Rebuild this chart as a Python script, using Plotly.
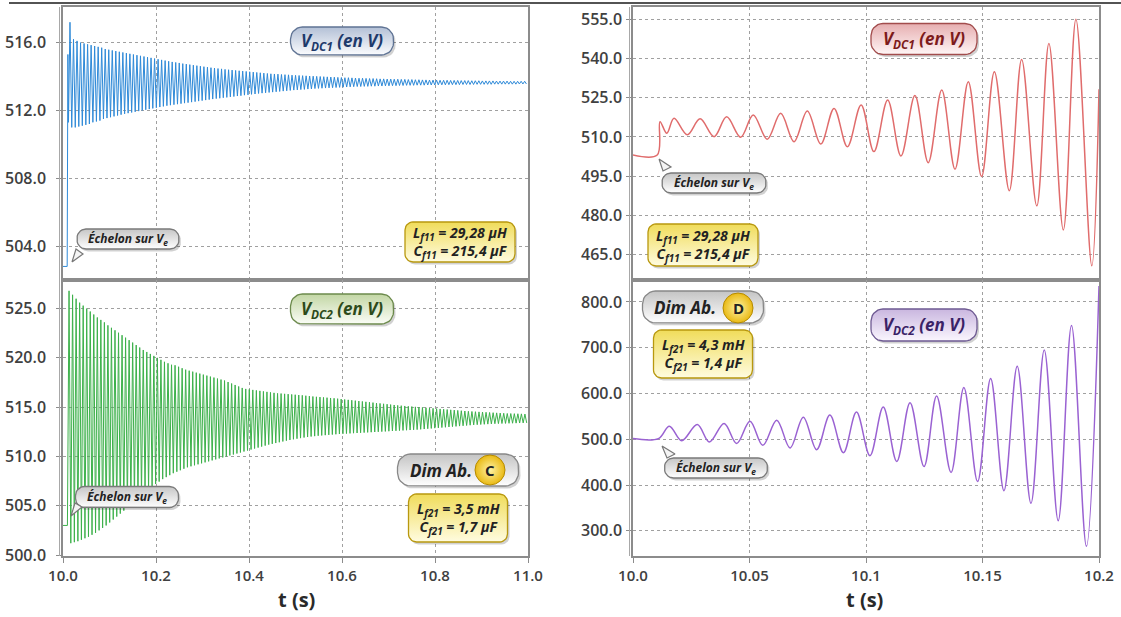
import numpy as np
import plotly.graph_objects as go

# ================= DATA =================
# Left column: dense oscillations, stored as successive maxima / minima
blue_pre_t = [10.0, 10.009, 10.0105, 10.0118]
blue_pre_v = [502.8, 502.8, 515.3, 511.3]
blue_t0 = 10.015
blue_half_period = 0.00379
blue_max = [517.2, 516.2, 516.1, 516.0, 515.95, 515.9, 515.85, 515.8, 515.75, 515.7,
            515.62, 515.58, 515.54, 515.5, 515.46, 515.42, 515.38, 515.34, 515.3, 515.26,
            515.22, 515.18, 515.14, 515.1, 515.06, 515.02, 514.98, 514.94, 514.9, 514.86,
            514.83, 514.8, 514.76, 514.73, 514.7, 514.67, 514.64, 514.61, 514.58, 514.55,
            514.52, 514.5, 514.47, 514.45, 514.42, 514.4, 514.38, 514.36, 514.34, 514.32,
            514.3, 514.28, 514.26, 514.24, 514.22, 514.2, 514.18, 514.16, 514.15, 514.14,
            514.12, 514.11, 514.1, 514.08, 514.07, 514.06, 514.05, 514.04, 514.03, 514.02,
            514.01, 514.0, 513.99, 513.98, 513.97, 513.96, 513.95, 513.94, 513.93, 513.93,
            513.92, 513.91, 513.9, 513.9, 513.89, 513.88, 513.88, 513.87, 513.86, 513.86,
            513.85, 513.85, 513.84, 513.84, 513.83, 513.83, 513.82, 513.82, 513.81, 513.81,
            513.8, 513.8, 513.79, 513.79, 513.79, 513.78, 513.78, 513.78, 513.77, 513.77,
            513.77, 513.76, 513.76, 513.76, 513.75, 513.75, 513.75, 513.74, 513.74, 513.74,
            513.74, 513.73, 513.73, 513.73, 513.73, 513.72, 513.72, 513.72, 513.72, 513.72]
blue_min = [511.0, 511.0, 511.05, 511.1, 511.15, 511.2, 511.3, 511.35, 511.4, 511.5,
            511.55, 511.6, 511.65, 511.7, 511.75, 511.8, 511.84, 511.88, 511.92, 511.96,
            512.0, 512.04, 512.08, 512.12, 512.16, 512.2, 512.24, 512.28, 512.31, 512.34,
            512.37, 512.4, 512.43, 512.46, 512.49, 512.52, 512.55, 512.58, 512.61, 512.64,
            512.67, 512.7, 512.72, 512.75, 512.77, 512.8, 512.82, 512.85, 512.87, 512.9,
            512.92, 512.95, 512.97, 513.0, 513.02, 513.04, 513.06, 513.08, 513.1, 513.12,
            513.14, 513.16, 513.18, 513.2, 513.21, 513.23, 513.24, 513.26, 513.27, 513.29,
            513.3, 513.31, 513.32, 513.33, 513.34, 513.35, 513.36, 513.37, 513.38, 513.39,
            513.4, 513.41, 513.41, 513.42, 513.42, 513.43, 513.43, 513.44, 513.44, 513.45,
            513.45, 513.46, 513.46, 513.47, 513.47, 513.48, 513.48, 513.48, 513.49, 513.49,
            513.49, 513.5, 513.5, 513.5, 513.51, 513.51, 513.51, 513.52, 513.52, 513.52,
            513.52, 513.53, 513.53, 513.53, 513.53, 513.54, 513.54, 513.54, 513.54, 513.54,
            513.55, 513.55, 513.55, 513.55, 513.55, 513.55, 513.55, 513.56, 513.56, 513.56]

green_pre_t = [10.0, 10.0095]
green_pre_v = [503.0, 503.0]
green_t0 = 10.013
green_half_period = 0.0038
green_max = [526.8, 526.4, 526.0, 525.6, 525.3, 525.0, 524.7, 524.4, 524.1, 523.85,
             523.6, 523.3, 523.05, 522.8, 522.55, 522.3, 522.05, 521.8, 521.55, 521.3,
             521.05, 520.8, 520.6, 520.4, 520.2, 520.0, 519.8, 519.6, 519.45, 519.3,
             519.25, 519.1, 518.95, 518.8, 518.7, 518.6, 518.5, 518.4, 518.3, 518.2,
             518.1, 518.0, 517.9, 517.8, 517.7, 517.55, 517.4, 517.25, 517.1, 516.95,
             516.85, 516.8, 516.75, 516.7, 516.65, 516.6, 516.55, 516.5, 516.45, 516.4,
             516.38, 516.35, 516.32, 516.29, 516.26, 516.23, 516.2, 516.16, 516.12, 516.08,
             516.05, 516.02, 515.99, 515.96, 515.93, 515.9, 515.86, 515.82, 515.78, 515.74,
             515.7, 515.66, 515.62, 515.58, 515.54, 515.5, 515.46, 515.42, 515.38, 515.34,
             515.3, 515.26, 515.22, 515.18, 515.15, 515.12, 515.09, 515.06, 515.03, 515.0,
             514.97, 514.94, 514.91, 514.88, 514.85, 514.82, 514.79, 514.76, 514.73, 514.7,
             514.67, 514.64, 514.61, 514.58, 514.56, 514.54, 514.52, 514.5, 514.48, 514.46,
             514.44, 514.42, 514.4, 514.38, 514.36, 514.35, 514.34, 514.33, 514.32, 514.3]
green_min = [501.2, 501.3, 501.4, 501.55, 501.7, 501.85, 502.05, 502.25, 502.5, 502.75,
             503.0, 503.3, 503.6, 503.9, 504.2, 504.5, 504.8, 505.1, 505.4, 505.7,
             506.0, 506.3, 506.6, 506.9, 507.2, 507.45, 507.7, 507.9, 508.1, 508.3,
             508.45, 508.6, 508.75, 508.9, 509.0, 509.1, 509.2, 509.3, 509.4, 509.5,
             509.6, 509.7, 509.8, 509.9, 510.0, 510.1, 510.2, 510.3, 510.4, 510.5,
             510.6, 510.7, 510.8, 510.9, 511.0, 511.1, 511.2, 511.28, 511.36, 511.44,
             511.52, 511.6, 511.67, 511.74, 511.8, 511.86, 511.92, 511.97, 512.02, 512.06,
             512.1, 512.13, 512.16, 512.19, 512.22, 512.25, 512.28, 512.3, 512.32, 512.34,
             512.36, 512.38, 512.4, 512.42, 512.44, 512.46, 512.48, 512.5, 512.52, 512.54,
             512.56, 512.58, 512.6, 512.62, 512.64, 512.66, 512.68, 512.7, 512.72, 512.75,
             512.78, 512.81, 512.84, 512.87, 512.9, 512.93, 512.96, 512.99, 513.02, 513.05,
             513.08, 513.11, 513.14, 513.17, 513.2, 513.22, 513.24, 513.26, 513.28, 513.3,
             513.32, 513.33, 513.34, 513.35, 513.36, 513.37, 513.38, 513.39, 513.4, 513.4]

# Right column: extrema of the growing oscillations
red_t = [10.0, 10.0104, 10.0116, 10.0145, 10.0176, 10.0233, 10.0288, 10.0348, 10.0402,
         10.0462, 10.0516, 10.0576, 10.0634, 10.0691, 10.0748, 10.0806, 10.0863, 10.092,
         10.0979, 10.1034, 10.1093, 10.115, 10.121, 10.1267, 10.1325, 10.1382, 10.1439,
         10.1496, 10.1551, 10.1615, 10.1668, 10.1733, 10.1785, 10.1847, 10.1901, 10.1969, 10.2]
red_v = [503.1, 503.1, 515.8, 511.4, 517.1, 510.8, 516.9, 510.1, 517.7,
         509.9, 518.4, 509.1, 519.0, 508.2, 519.9, 507.3, 520.9, 506.3,
         522.2, 504.4, 524.1, 502.75, 525.8, 500.2, 527.9, 497.7, 531.1,
         494.9, 534.9, 489.5, 539.6, 483.7, 545.7, 474.5, 554.9, 460.8, 528.2]

purple_t = [10.0, 10.0109, 10.0156, 10.0209, 10.0276, 10.0328, 10.0391, 10.0445, 10.0502,
            10.0557, 10.0617, 10.0674, 10.0731, 10.0788, 10.0845, 10.0903, 10.0959, 10.1017,
            10.1074, 10.1132, 10.1189, 10.1249, 10.1303, 10.1365, 10.142, 10.1479, 10.1535,
            10.1592, 10.1649, 10.1708, 10.1765, 10.1825, 10.1882, 10.1946, 10.2]
purple_v = [501.5, 501.5, 528.7, 497.0, 532.3, 494.0, 534.6, 491.0, 539.6,
            486.9, 541.8, 481.1, 548.4, 477.3, 552.8, 470.8, 559.4, 464.2,
            570.4, 451.7, 580.0, 440.6, 594.6, 427.4, 613.1, 407.6, 632.9,
            387.8, 659.3, 360.2, 695.1, 321.9, 748.6, 266.3, 835.0]

left_x_ticks = [10.0, 10.2, 10.4, 10.6, 10.8, 11.0]
left_x_labels = ["10.0", "10.2", "10.4", "10.6", "10.8", "11.0"]
right_x_ticks = [10.0, 10.05, 10.1, 10.15, 10.2]
right_x_labels = ["10.0", "10.05", "10.1", "10.15", "10.2"]
tl_y_ticks = [504, 508, 512, 516]
bl_y_ticks = [500, 505, 510, 515, 520, 525]
tr_y_ticks = [465, 480, 495, 510, 525, 540, 555]
br_y_ticks = [300, 400, 500, 600, 700, 800]


# ================= helpers =================
def zigzag(pre_t, pre_v, t0, hp, maxs, mins):
    n = len(maxs)
    t = list(pre_t) + list(t0 + hp * np.arange(2 * n))
    v = list(pre_v) + [val for pair in zip(maxs, mins) for val in pair]
    return t, v


W, H = 1121, 617
LX = [63 / W, 528 / W]
RX = [633 / W, 1099 / W]
TY = [1 - 280 / H, 1 - 7 / H]
BY = [1 - 556 / H, 1 - 280 / H]

FONT = "Open Sans"
GRID = "#a0a0a0"
FRAME = "#8c8c8c"

fig = go.Figure()

bt, bv = zigzag(blue_pre_t, blue_pre_v, blue_t0, blue_half_period, blue_max, blue_min)
gt, gv = zigzag(green_pre_t, green_pre_v, green_t0, green_half_period, green_max, green_min)

fig.add_trace(go.Scatter(x=bt, y=bv, mode="lines", line=dict(color="#2f8ad8", width=1),
                         xaxis="x", yaxis="y", showlegend=False, hoverinfo="skip"))
fig.add_trace(go.Scatter(x=red_t, y=red_v, mode="lines",
                         line=dict(color="#e06c6c", width=1.5, shape="spline", smoothing=1.0),
                         xaxis="x2", yaxis="y2", showlegend=False, hoverinfo="skip"))
fig.add_trace(go.Scatter(x=gt, y=gv, mode="lines", line=dict(color="#3db14b", width=1),
                         xaxis="x3", yaxis="y3", showlegend=False, hoverinfo="skip"))
fig.add_trace(go.Scatter(x=purple_t, y=purple_v, mode="lines",
                         line=dict(color="#9a62d2", width=1.5, shape="spline", smoothing=1.0),
                         xaxis="x4", yaxis="y4", showlegend=False, hoverinfo="skip"))


def axis_style(**kw):
    d = dict(showline=True, mirror=True, linecolor=FRAME, linewidth=1.5,
             showgrid=True, gridcolor=GRID, griddash="dot", gridwidth=1,
             zeroline=False, ticks="outside", ticklen=5, tickcolor=FRAME,
             tickfont=dict(family=FONT, size=16, color="#404040", weight=600),
             automargin=False, fixedrange=True)
    d.update(kw)
    return d


XTF = dict(family=FONT, size=15, color="#404040", weight=600)

layout_axes = dict(
    xaxis=axis_style(domain=LX, range=[10.0, 11.0], tickvals=left_x_ticks,
                     showticklabels=False, ticks="", anchor="y"),
    yaxis=axis_style(domain=TY, range=[502.0, 518.1], tickvals=tl_y_ticks,
                     tickformat=".1f", anchor="x", ticklabelstandoff=7),
    xaxis2=axis_style(domain=RX, range=[10.0, 10.2], tickvals=right_x_ticks,
                      showticklabels=False, ticks="", anchor="y2"),
    yaxis2=axis_style(domain=TY, range=[455.4, 559.6], tickvals=tr_y_ticks,
                      tickformat=".1f", anchor="x2", ticklabelstandoff=1),
    xaxis3=axis_style(domain=LX, range=[10.0, 11.0], tickvals=left_x_ticks,
                      ticktext=left_x_labels, anchor="y3", tickfont=XTF,
                      ticklabeloverflow="allow"),
    yaxis3=axis_style(domain=BY, range=[499.9, 527.9], tickvals=bl_y_ticks,
                      tickformat=".1f", anchor="x3", ticklabelstandoff=7),
    xaxis4=axis_style(domain=RX, range=[10.0, 10.2], tickvals=right_x_ticks,
                      ticktext=right_x_labels, anchor="y4", tickfont=XTF,
                      ticklabeloverflow="allow"),
    yaxis4=axis_style(domain=BY, range=[245, 848], tickvals=br_y_ticks,
                      tickformat=".1f", anchor="x4", ticklabelstandoff=1),
    xaxis5=dict(domain=[0, 1], range=[0, W], visible=False, fixedrange=True, anchor="y5"),
    yaxis5=dict(domain=[0, 1], range=[H, 0], visible=False, fixedrange=True, anchor="x5"),
)


# ---------- decorative callout boxes (pixel coords on overlay axis) ----------
def rrect(cx, cy, w, h, r, n=8):
    xs, ys = [], []
    corners = [(cx + w / 2 - r, cy - h / 2 + r, -90, 0),
               (cx + w / 2 - r, cy + h / 2 - r, 0, 90),
               (cx - w / 2 + r, cy + h / 2 - r, 90, 180),
               (cx - w / 2 + r, cy - h / 2 + r, 180, 270)]
    for ox, oy, a0, a1 in corners:
        for a in np.linspace(a0, a1, n):
            xs.append(ox + r * np.cos(np.radians(a)))
            ys.append(oy + r * np.sin(np.radians(a)))
    xs.append(xs[0])
    ys.append(ys[0])
    return xs, ys


def box(cx, cy, w, h, r, top, bottom, border, shadow=True):
    if shadow:
        xs, ys = rrect(cx + 2, cy + 2.5, w, h, r)
        fig.add_trace(go.Scatter(x=xs, y=ys, mode="lines", fill="toself",
                                 fillcolor="rgba(0,0,0,0.18)", line=dict(width=0),
                                 xaxis="x5", yaxis="y5", showlegend=False, hoverinfo="skip"))
    xs, ys = rrect(cx, cy, w, h, r)
    fig.add_trace(go.Scatter(x=xs, y=ys, mode="lines", fill="toself",
                             fillgradient=dict(type="vertical",
                                               colorscale=[[0, top], [1, bottom]]),
                             line=dict(color=border, width=1.3),
                             xaxis="x5", yaxis="y5", showlegend=False, hoverinfo="skip"))


def pointer(pts):
    xs = [p[0] for p in pts] + [pts[0][0]]
    ys = [p[1] for p in pts] + [pts[0][1]]
    fig.add_trace(go.Scatter(x=xs, y=ys, mode="lines", fill="toself", fillcolor="#f4f4f4",
                             line=dict(color="#777777", width=1.2),
                             xaxis="x5", yaxis="y5", showlegend=False, hoverinfo="skip"))


def coin(cx, cy):
    fig.add_trace(go.Scatter(x=[cx], y=[cy], mode="markers",
                             marker=dict(size=30, color="#e9b913",
                                         line=dict(color="#b58a00", width=1),
                                         gradient=dict(type="radial", color="#fff3a6")),
                             xaxis="x5", yaxis="y5", showlegend=False, hoverinfo="skip"))


annotations = []


def text(x, y, s, size, color="#222222", align="center", xanchor="center"):
    annotations.append(dict(x=x, y=y, xref="x5", yref="y5", text=s, showarrow=False,
                            align=align, xanchor=xanchor, yanchor="middle",
                            font=dict(family=FONT, size=size, color=color)))


ECH = "<b><i>Échelon sur V<sub>e</sub></i></b>"

# top-left
box(342, 41, 103, 28, 12, "#fbfcfe", "#b3c0d6", "#5f7394")
text(342, 41, "<b><i>V<sub>DC1</sub> (en V)</i></b>", 17, "#1e3a6b")
box(128, 239, 102, 20, 9, "#ffffff", "#c6c6c6", "#7a7a7a")
text(128, 239, ECH, 12)
pointer([(72, 262), (76, 249), (83, 254)])
box(460, 242, 110, 40, 8, "#fffce0", "#f0dc5a", "#b8980f")
text(460, 242, "<b><i>L<sub>f11</sub> = 29,28 µH<br>C<sub>f11</sub> = 215,4 µF</i></b>", 14)

# bottom-left
box(342, 309, 103, 30, 12, "#fbfdf7", "#c2d6a4", "#6c8a4c")
text(342, 309, "<b><i>V<sub>DC2</sub> (en V)</i></b>", 17, "#2d4a1a")
box(127, 497, 103, 21, 9, "#ffffff", "#c6c6c6", "#7a7a7a")
text(127, 497, ECH, 12)
pointer([(71, 516), (75, 503), (82, 507)])
box(458, 470, 121, 32, 13, "#ffffff", "#c4c4c4", "#888888")
text(441, 470, "<b><i>Dim Ab.</i></b>", 17, "#222222")
coin(490, 470)
text(490, 470, "<b>C</b>", 15, "#222222")
box(458, 518, 99, 48, 8, "#fffce0", "#f0dc5a", "#b8980f")
text(458, 518, "<b><i>L<sub>f21</sub> = 3,5 mH<br>C<sub>f21</sub> = 1,7 µF</i></b>", 14)

# top-right
box(924, 39, 106, 31, 12, "#fff6f6", "#e6aeb0", "#a24c4c")
text(924, 39, "<b><i>V<sub>DC1</sub> (en V)</i></b>", 17, "#7d1b1b")
box(714, 183, 104, 20, 9, "#ffffff", "#c6c6c6", "#7a7a7a")
text(714, 183, ECH, 12)
pointer([(659, 159), (663, 171), (671, 167)])
box(703, 245, 110, 42, 8, "#fffce0", "#f0dc5a", "#b8980f")
text(703, 245, "<b><i>L<sub>f11</sub> = 29,28 µH<br>C<sub>f11</sub> = 215,4 µF</i></b>", 14)

# bottom-right
box(703, 307, 121, 32, 13, "#ffffff", "#c4c4c4", "#888888")
text(685, 307, "<b><i>Dim Ab.</i></b>", 17, "#222222")
coin(738, 308)
text(738, 308, "<b>D</b>", 15, "#222222")
box(703, 354, 99, 48, 8, "#fffce0", "#f0dc5a", "#b8980f")
text(703, 354, "<b><i>L<sub>f21</sub> = 4,3 mH<br>C<sub>f21</sub> = 1,4 µF</i></b>", 14)
box(924, 325, 106, 32, 12, "#faf6fe", "#c9b6df", "#6e5a92")
text(924, 325, "<b><i>V<sub>DC2</sub> (en V)</i></b>", 17, "#3a2266")
box(716, 468, 103, 20, 9, "#ffffff", "#c6c6c6", "#7a7a7a")
text(716, 468, ECH, 12)
pointer([(662, 446), (667, 458), (675, 454)])

# axis titles
text(296, 599, "<b>t (s)</b>", 20, "#2a2a2a")
text(864, 599, "<b>t (s)</b>", 20, "#2a2a2a")

shapes = [
    dict(type="line", xref="x5", yref="y5", x0=9, x1=W, y0=3, y1=3,
         line=dict(color="#1a1a1a", width=1.5)),
    # second (outer) frame line on the left of each column
    dict(type="line", xref="x5", yref="y5", x0=59.5, x1=59.5, y0=7, y1=556,
         line=dict(color="#a8a8a8", width=1)),
    dict(type="line", xref="x5", yref="y5", x0=629.5, x1=629.5, y0=7, y1=556,
         line=dict(color="#a8a8a8", width=1)),
]

fig.update_layout(width=W, height=H, margin=dict(l=0, r=0, t=0, b=0),
                  paper_bgcolor="white", plot_bgcolor="rgba(0,0,0,0)",
                  showlegend=False, annotations=annotations, shapes=shapes,
                  font=dict(family=FONT), **layout_axes)

# remove the browser's default page margin so the figure fills the window exactly
fig.write_html("out.html",
               config={"displayModeBar": False},
               post_script="document.body.style.margin='0';"
                           "document.body.style.overflow='hidden';")
